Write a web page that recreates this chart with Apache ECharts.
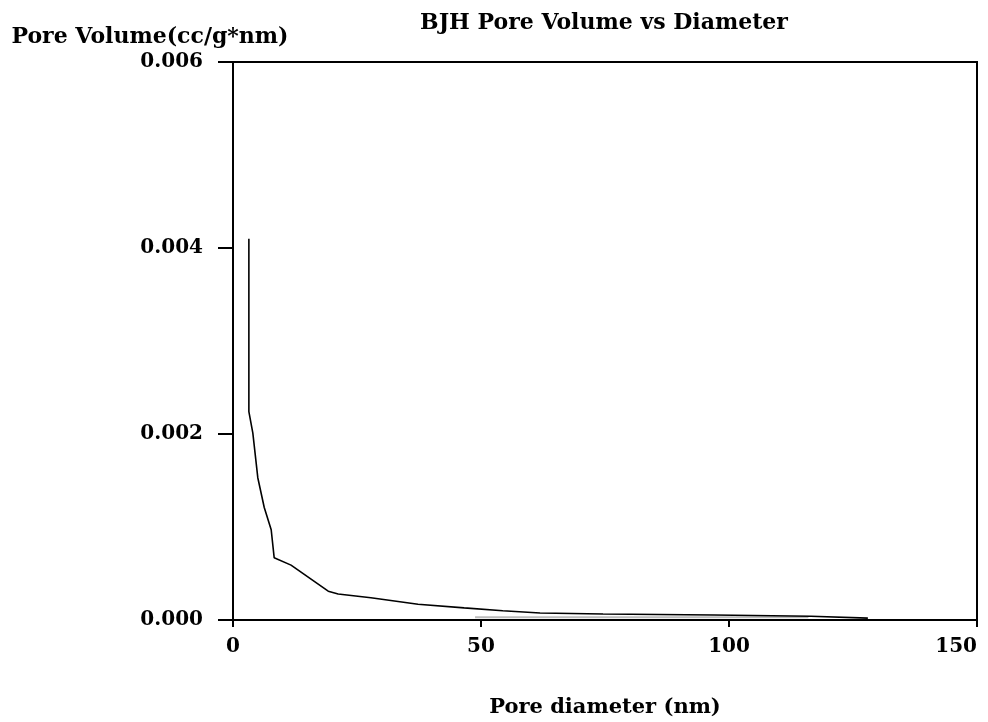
<!DOCTYPE html>
<html>
<head>
<meta charset="utf-8">
<script src="https://cdn.jsdelivr.net/npm/echarts@6/dist/echarts.min.js"></script>
<style>html,body{margin:0;padding:0;background:#fff}#c{width:988px;height:722px}</style>
</head>
<body>
<div id="c"></div>
<script>
var chartTitle = 'BJH Pore Volume vs Diameter';
var xAxisName = 'Pore diameter (nm)';
var yAxisName = 'Pore Volume(cc/g*nm)';
var xTicks = [0, 50, 100, 150];
var yTicks = [0, 0.002, 0.004, 0.006];
// pore diameter (nm)
var diameter = [3.2, 3.2, 4.0, 5.0, 6.3, 7.7, 8.3, 11.7, 19.2, 21.2, 27.8, 37.3, 46.6, 54.4, 61.9, 74.6, 97.0, 116.5, 128.0];
// pore volume (cc/g*nm)
var volume = [0.0041, 0.00224, 0.00201, 0.00153, 0.00121, 0.00097, 0.00067, 0.00059, 0.00031, 0.00028, 0.00024, 0.00017, 0.00013, 0.00010, 0.000075, 0.000065, 0.000054, 0.00004, 0.00002];
// faint secondary trace near the baseline
var faintDiameter = [48.8, 116.0];
var faintVolume = [0.00003, 0.00003];

function pairs(xs, ys) { return xs.map(function (x, i) { return [x, ys[i]]; }); }

var font = 'DejaVu Serif';
var chart = echarts.init(document.getElementById('c'));
chart.setOption({
  backgroundColor: '#fff',
  animation: false,
  title: {
    text: chartTitle,
    left: 599, top: 7, textAlign: 'center',
    textStyle: { fontFamily: font, fontWeight: 'bold', fontSize: 22, color: '#000' }
  },
  grid: { left: 233, right: 11, top: 62, bottom: 102, outerBoundsMode: 'none', containLabel: false,
    show: true, borderColor: '#000', borderWidth: 2, backgroundColor: 'transparent' },
  xAxis: {
    type: 'value', min: xTicks[0], max: xTicks[xTicks.length - 1], interval: 50,
    name: xAxisName, nameLocation: 'middle', nameGap: 77,
    nameTextStyle: { fontFamily: font, fontWeight: 'bold', fontSize: 21, color: '#000' },
    axisLine: { lineStyle: { color: '#000', width: 2 } },
    axisTick: { show: true, length: 7, lineStyle: { color: '#000', width: 2 } },
    axisLabel: { fontFamily: font, fontWeight: 'bold', fontSize: 20, color: '#000', margin: 17,
      alignMaxLabel: 'right' },
    splitLine: { show: false }
  },
  yAxis: {
    type: 'value', min: yTicks[0], max: yTicks[yTicks.length - 1], interval: 0.002,
    name: yAxisName, nameLocation: 'end', nameGap: 14,
    nameTextStyle: { fontFamily: font, fontWeight: 'bold', fontSize: 22, color: '#000', align: 'center', padding: [0, 166, 0, 0] },
    axisLine: { lineStyle: { color: '#000', width: 2 } },
    axisTick: { show: true, length: 15, lineStyle: { color: '#000', width: 2 } },
    axisLabel: { fontFamily: font, fontWeight: 'bold', fontSize: 20, color: '#000', margin: 30,
      formatter: function (v) { return v.toFixed(3); } },
    splitLine: { show: false }
  },
  series: [
    {
      type: 'line', data: pairs(faintDiameter, faintVolume), showSymbol: false,
      lineStyle: { color: '#bbbbbb', width: 2 }, z: 1
    },
    {
      type: 'line', data: pairs(diameter, volume), showSymbol: false,
      lineStyle: { color: '#000', width: 1.6 }, z: 2
    }
  ]
});
</script>
</body>
</html>
